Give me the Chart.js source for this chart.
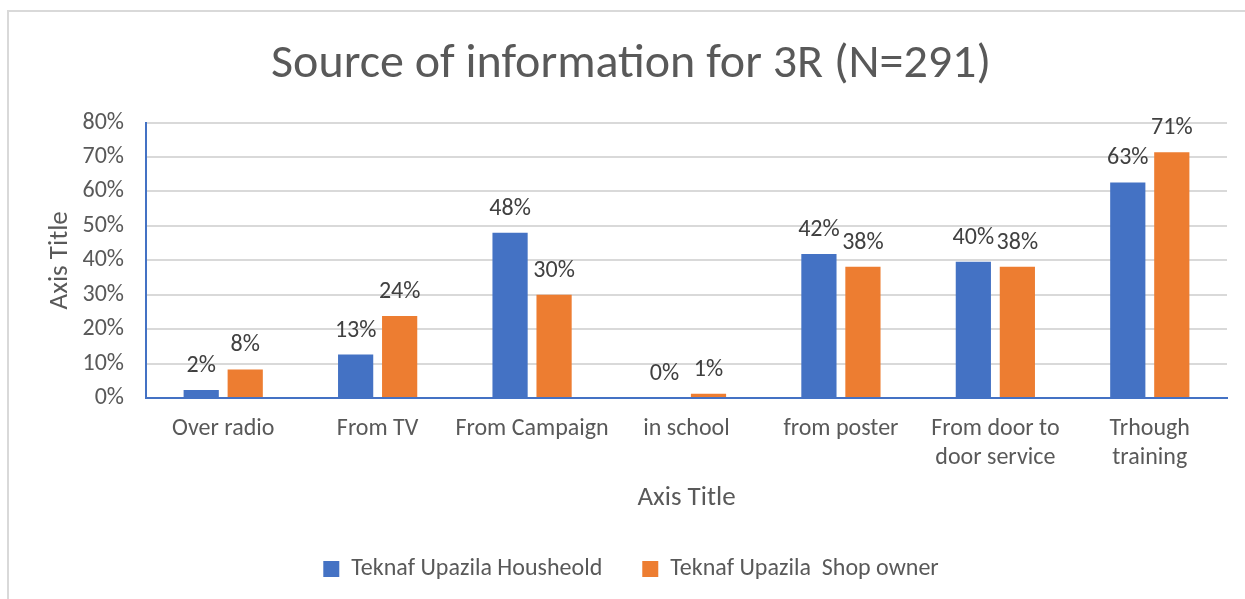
<!DOCTYPE html>
<html>
<head>
<meta charset="utf-8">
<script src="https://cdn.jsdelivr.net/npm/chart.js@4.4.1/dist/chart.umd.min.js"></script>
<style>
  html, body { margin: 0; padding: 0; background: #fff; }
  #wrap { position: relative; width: 1245px; height: 599px; overflow: hidden; }
  #frame { position: absolute; left: 7px; top: 10px; width: 1300px; height: 700px;
           border-top: 2px solid #d9d9d9; border-left: 2px solid #d9d9d9; }
  canvas { position: absolute; left: 0; top: 0; }
</style>
</head>
<body>
<div id="wrap">
  <div id="frame"></div>
  <canvas id="chart" width="1245" height="599"></canvas>
</div>
<script>
const categories = [
  'Over radio', 'From TV', 'From Campaign', 'in school', 'from poster',
  ['From door to', 'door service'], ['Trhough', 'training']
];
const householdValues = [2.3, 12.6, 48.0, 0, 41.8, 39.6, 62.6];
const shopOwnerValues = [8.3, 23.8, 30.0, 1.2, 38.1, 38.1, 71.4];
const yTicks = [0, 10, 20, 30, 40, 50, 60, 70, 80];

const FONT = "Calibri, Carlito, 'Open Sans', sans-serif";
const TEXT = '#595959';

// value labels above each bar, rounded like Excel
const barLabels = {
  id: 'barLabels',
  afterDatasetsDraw(chart) {
    const ctx = chart.ctx;
    ctx.save();
    ctx.font = "24px " + FONT;
    ctx.fillStyle = '#404040';
    ctx.textAlign = 'center';
    ctx.textBaseline = 'alphabetic';
    chart.data.datasets.forEach((ds, i) => {
      chart.getDatasetMeta(i).data.forEach((bar, j) => {
        ctx.fillText(Math.round(ds.data[j]) + '%', bar.x, bar.y - 18);
      });
    });
    ctx.restore();
  }
};

new Chart(document.getElementById('chart').getContext('2d'), {
  type: 'bar',
  data: {
    labels: categories,
    datasets: [
      {
        label: 'Teknaf Upazila Housheold', data: householdValues,
        backgroundColor: '#4472c4', barPercentage: 0.8, categoryPercentage: 0.57
      },
      {
        label: 'Teknaf Upazila  Shop owner', data: shopOwnerValues,
        backgroundColor: '#ed7d31', barPercentage: 0.8, categoryPercentage: 0.57
      }
    ]
  },
  options: {
    responsive: false,
    animation: false,
    layout: { padding: { left: 35, right: 18, top: 0, bottom: 8 } },
    plugins: {
      title: {
        display: true, text: 'Source of information for 3R (N=291)',
        color: TEXT, font: { family: FONT, size: 48, weight: 'normal' },
        padding: { top: 36, bottom: 29 }
      },
      legend: {
        position: 'bottom',
        labels: {
          color: TEXT, font: { family: FONT, size: 24 },
          boxWidth: 16, boxHeight: 16, padding: 40
        }
      },
      tooltip: { enabled: false }
    },
    scales: {
      x: {
        grid: { display: false, drawTicks: false },
        border: { color: '#4472c4', width: 2 },
        ticks: { color: TEXT, font: { family: FONT, size: 24 }, padding: 17, maxRotation: 0, autoSkip: false },
        title: { display: true, text: 'Axis Title', color: TEXT, font: { family: FONT, size: 27 }, padding: { top: 10, bottom: 3 } },
        afterFit(scale) { scale.height = 119; }
      },
      y: {
        min: 0, max: 80,
        afterBuildTicks(scale) { scale.ticks = yTicks.map(v => ({ value: v })); },
        grid: { color: '#d9d9d9', lineWidth: 2, drawTicks: false },
        border: { color: '#4472c4', width: 2 },
        ticks: { color: TEXT, font: { family: FONT, size: 24 }, padding: 22, callback: v => v + '%' },
        title: { display: true, text: 'Axis Title', color: TEXT, font: { family: FONT, size: 27 }, padding: { top: 9, bottom: 0 } },
        afterFit(scale) { scale.width = 111; }
      }
    }
  },
  plugins: [barLabels]
});
</script>
</body>
</html>
